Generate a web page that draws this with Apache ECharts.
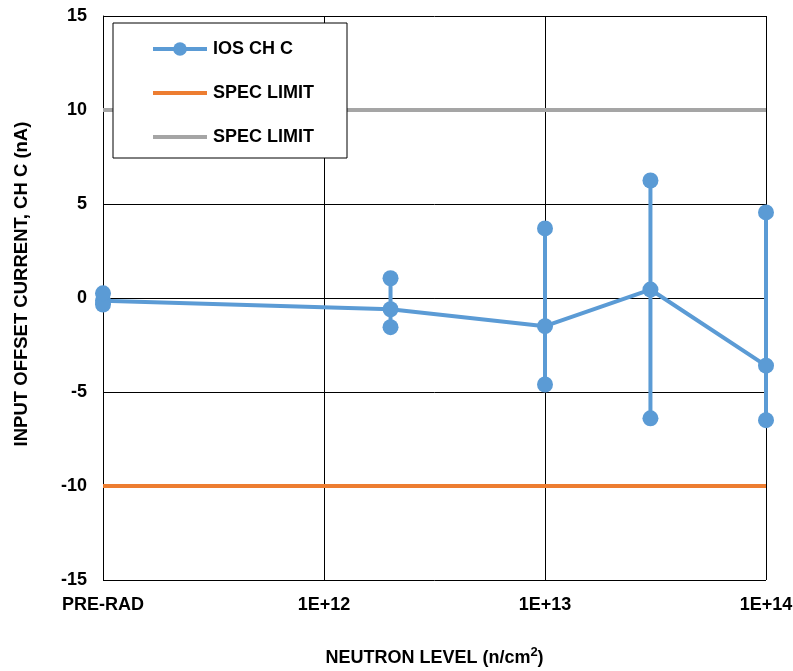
<!DOCTYPE html>
<html>
<head>
<meta charset="utf-8">
<script src="https://cdn.jsdelivr.net/npm/echarts@6/dist/echarts.min.js"></script>
<style>html,body{margin:0;padding:0;background:#fff}#c{width:793px;height:671px}</style>
</head>
<body>
<div id="c"></div>
<script>
const levels = [1e11, 2e12, 1e13, 3e13, 1e14];
const meanVals = [-0.15, -0.6, -1.5, 0.45, -3.6];
const maxVals = [0.25, 1.05, 3.7, 6.25, 4.55];
const minVals = [-0.35, -1.55, -4.6, -6.4, -6.5];
const specHigh = 10;
const specLow = -10;
const xRange = [1e11, 1e14];

const FONT = '"Liberation Sans", Arial, sans-serif';
const blue = '#5B9BD5', orange = '#ED7D31', gray = '#A5A5A5';

const meanData = levels.map((x, i) => [x, meanVals[i]]);
const errData = [];
levels.forEach((x, i) => { errData.push([x, minVals[i]]); errData.push([x, maxVals[i]]); errData.push('-'); });

const chart = echarts.init(document.getElementById('c'));
chart.setOption({
  animation: false,
  textStyle: { fontFamily: FONT },
  grid: { left: 103, right: 27, top: 16, bottom: 91, outerBoundsMode: 'none', containLabel: false },
  legend: {
    data: [
      { name: 'IOS CH C' },
      { name: 'SPEC LIMIT', itemStyle: { opacity: 0 } },
      { name: 'SPEC LIMIT ', itemStyle: { opacity: 0 } }
    ],
    orient: 'vertical',
    left: 113, top: 23,
    padding: [17, 33, 12, 38],
    itemGap: 26,
    itemWidth: 54, itemHeight: 17,
    lineStyle: { width: 4 },
    borderColor: '#000', borderWidth: 1,
    backgroundColor: '#fff',
    formatter: n => n.trim(),
    textStyle: { fontFamily: FONT, fontWeight: 'bold', fontSize: 18, color: '#000', padding: [0, 0, 0, 1] }
  },
  xAxis: {
    type: 'log', logBase: 10, min: xRange[0], max: xRange[1],
    name: '{a|NEUTRON LEVEL (n/cm}{b|2}{a|)}',
    nameLocation: 'middle', nameGap: 66,
    nameTextStyle: {
      rich: {
        a: { fontFamily: FONT, fontWeight: 'bold', fontSize: 18, color: '#000' },
        b: { fontFamily: FONT, fontWeight: 'bold', fontSize: 13, color: '#000', verticalAlign: 'bottom', padding: [0, 0, 11, 0] }
      }
    },
    axisLine: { show: true, lineStyle: { color: '#000', width: 1 } },
    axisTick: { show: false },
    minorTick: { show: false },
    splitLine: { show: true, lineStyle: { color: '#000', width: 1 } },
    axisLabel: {
      margin: 16, fontFamily: FONT, fontWeight: 'bold', fontSize: 18, color: '#000',
      formatter: v => (v <= 1.01e11 ? 'PRE-RAD' : '1E+' + Math.round(Math.log10(v)))
    }
  },
  yAxis: {
    type: 'value', min: -15, max: 15, interval: 5,
    name: 'INPUT OFFSET CURRENT, CH C (nA)',
    nameLocation: 'middle', nameGap: 72,
    nameTextStyle: { fontFamily: FONT, fontWeight: 'bold', fontSize: 18.5, color: '#000', padding: [0, 0, 0, 28] },
    axisLine: { show: true, lineStyle: { color: '#000', width: 1 } },
    axisTick: { show: false },
    splitLine: { show: true, lineStyle: { color: '#000', width: 1 } },
    axisLabel: { margin: 16, fontFamily: FONT, fontWeight: 'bold', fontSize: 18, color: '#000' }
  },
  series: [
    {
      name: 'IOS CH C', type: 'line', data: meanData, clip: false, z: 5,
      symbol: 'circle', symbolSize: 16, showAllSymbol: true,
      lineStyle: { color: blue, width: 4 }, itemStyle: { color: blue }
    },
    {
      name: 'SPEC LIMIT', type: 'line', data: [[xRange[0], specLow], [xRange[1], specLow]],
      symbol: 'none', lineStyle: { color: orange, width: 4 }, itemStyle: { color: orange }, z: 3
    },
    {
      name: 'SPEC LIMIT ', type: 'line', data: [[xRange[0], specHigh], [xRange[1], specHigh]],
      symbol: 'none', lineStyle: { color: gray, width: 4 }, itemStyle: { color: gray }, z: 3
    },
    {
      name: 'err', type: 'line', data: errData, clip: false, connectNulls: false, z: 5,
      symbol: 'circle', symbolSize: 16, showAllSymbol: true,
      lineStyle: { color: blue, width: 4 }, itemStyle: { color: blue }
    }
  ]
});
</script>
</body>
</html>
